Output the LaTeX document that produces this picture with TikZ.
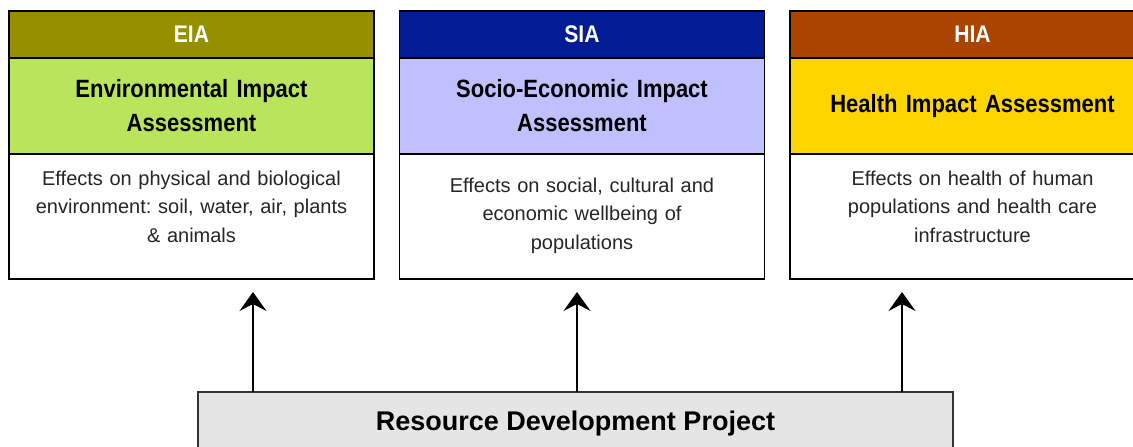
\documentclass[tikz,border=0pt]{standalone}
\usepackage{fontspec}
\setmainfont{Liberation Sans}
\newfontfamily\condfont[FakeStretch=0.88,WordSpace=0.75]{Liberation Sans}
\usetikzlibrary{positioning,arrows.meta}

\definecolor{eiadark}{HTML}{968F00}
\definecolor{eialight}{HTML}{B9E55C}
\definecolor{siadark}{HTML}{021C96}
\definecolor{sialight}{HTML}{C0C0FF}
\definecolor{hiadark}{HTML}{AA4400}
\definecolor{hialight}{HTML}{FFD500}
\definecolor{projgray}{HTML}{E5E5E5}

\frenchspacing

\begin{document}
\begin{tikzpicture}[x=1pt,y=1pt]

\tikzset{outer sep=0pt,inner sep=0pt,
tag/.style={draw=black,line width=1.6pt,minimum width=365pt,minimum height=47pt,anchor=north,
  text=white,font=\condfont\bfseries\fontsize{24}{26}\selectfont},
heading/.style={draw=black,line width=1.6pt,minimum width=365pt,minimum height=96pt,
  text width=345pt,align=center,font=\condfont\bfseries\fontsize{25}{34}\selectfont},
effectbox/.style={draw=black,line width=1.6pt,minimum width=365pt,minimum height=125pt,fill=white},
effecttext/.style={text width=350pt,align=center,text=black!85,font=\fontsize{20}{28.5}\selectfont},
project/.style={draw=black!80,line width=1.2pt,fill=projgray,minimum width=755pt,minimum height=64pt,
  anchor=north,font=\bfseries\fontsize{27}{30}\selectfont},
up/.style={-{Stealth[length=19pt,width=27pt,inset=7pt]},line width=1.6pt,shorten >=13pt}}

\useasboundingbox (0,0) rectangle (1133,-447);
\clip (0,0) rectangle (1133,-447);

% EIA column
\node[tag,fill=eiadark] (eiah) at (191.5,-11) {EIA};
\node[heading,fill=eialight,below=0pt of eiah] (eiat) {Environmental Impact\\Assessment};
\node[effectbox,below=0pt of eiat] (eiad) {};
\node[effecttext,below=17pt of eiat.south] (eiax) {Effects on physical and biological\\environment: soil, water, air, plants\\\& animals};

% SIA column
\node[tag,fill=siadark] (siah) at (582,-11) {SIA};
\node[heading,fill=sialight,below=0pt of siah] (siat) {Socio-Economic Impact\\Assessment};
\node[effectbox,below=0pt of siat] (siad) {};
\node[effecttext,below=24pt of siat.south] (siax) {Effects on social, cultural and\\economic wellbeing of\\populations};

% HIA column
\node[tag,fill=hiadark] (hiah) at (972.5,-11) {HIA};
\node[heading,fill=hialight,below=0pt of hiah] (hiat) {Health Impact Assessment};
\node[effectbox,below=0pt of hiat] (hiad) {};
\node[effecttext,below=17pt of hiat.south] (hiax) {Effects on health of human\\populations and health care\\infrastructure};

% Project
\node[project] (proj) at (575.5,-392) {Resource Development Project};

% Arrows
\draw[up] ([xshift=55pt]proj.north west) coordinate (f1) -- (f1 |- eiad.south);
\draw[up] ([xshift=379pt]proj.north west) coordinate (f2) -- (f2 |- siad.south);
\draw[up] ([xshift=704pt]proj.north west) coordinate (f3) -- (f3 |- hiad.south);

\end{tikzpicture}
\end{document}
